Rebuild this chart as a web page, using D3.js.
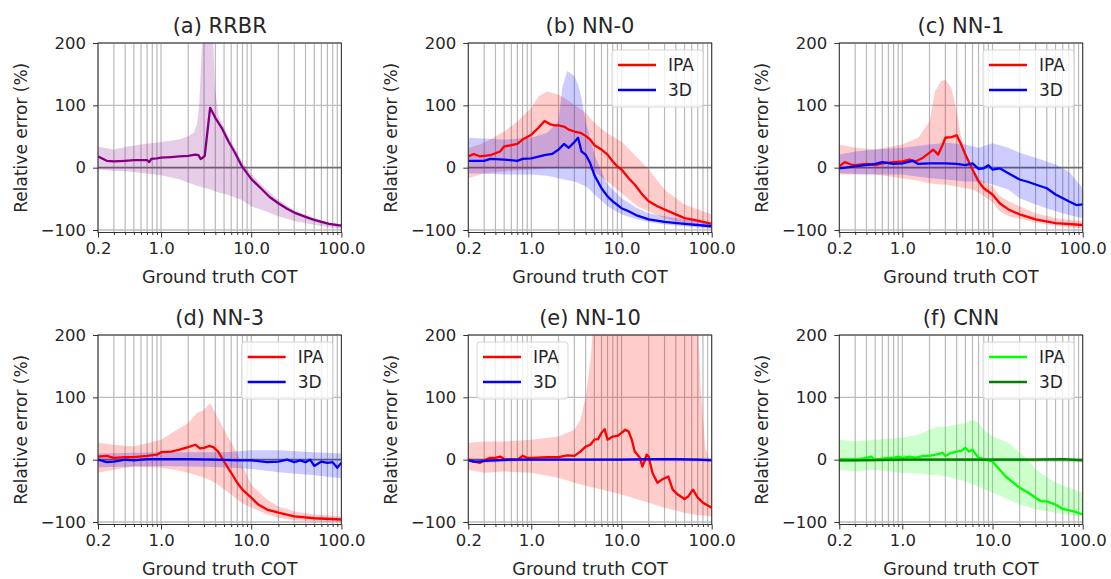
<!DOCTYPE html>
<html>
<head>
<meta charset="utf-8">
<script src="https://cdn.jsdelivr.net/npm/d3@7"></script>
<style>
body { margin: 0; background: #fff; }
text { font-family: "DejaVu Sans", sans-serif; fill: #262626; }
</style>
</head>
<body>
<script>

// [COT, mean relative error %]  and bands [COT, low, high]
const rrbrLine = [[0.2,18],[0.22,15],[0.25,11],[0.3,10],[0.4,11],[0.5,12],[0.6,12],[0.7,12],[0.74,9],[0.78,14],[0.9,15],[1.0,16],[1.3,17],[1.6,18],[2.0,19],[2.4,21],[2.6,20],[2.75,14],[2.9,16],[3.05,19],[3.5,96],[4.0,80],[4.7,64],[5.6,42],[6.6,24],[7.9,2],[10,-18],[13.2,-35],[16,-47],[20,-57],[25,-66],[31,-73],[40,-79],[48,-83],[60,-87],[73,-90],[100,-93]];
const rrbrBand = [[0.2,-3,34],[0.3,-5,29],[0.43,-6,34],[0.66,-9,38],[1.0,-12,41],[1.56,-18,45],[2.0,-24,50],[2.3,-27,56],[2.5,-29,69],[2.65,-30,101],[2.8,-31,176],[2.9,-32,240],[3.7,-36,240],[3.96,-38,128],[4.35,-40,82],[5.6,-44,50],[7.9,-52,10],[10,-62,-10],[13.2,-68,-28],[20,-78,-52],[31,-86,-69],[48,-91,-80],[73,-95,-88],[100,-98,-91]];

const nn0IpaLine = [[0.2,18],[0.23,22],[0.27,18],[0.35,20],[0.45,26],[0.5,34],[0.6,36],[0.7,38],[0.8,45],[1.0,53],[1.2,64],[1.4,75],[1.6,70],[1.8,68],[2.0,68],[2.3,66],[2.6,61],[3.0,58],[3.5,56],[4.0,51],[4.5,45],[5,36],[6,29],[7,21],[8,10],[9,2],[10,-3],[12,-17],[14,-27],[17,-43],[20,-54],[25,-62],[30,-67],[40,-75],[50,-81],[70,-85],[100,-90]];
const nn0IpaBand = [[0.2,-17,31],[0.3,-9,40],[0.5,-6,58],[0.7,-4,74],[1.0,-3,96],[1.2,-2,114],[1.5,-1,122],[2.0,0,117],[2.5,1,109],[3.0,2,101],[4.0,0,88],[5,-6,72],[7,-22,55],[10,-41,42],[15,-62,16],[20,-70,-3],[30,-81,-35],[50,-89,-59],[100,-97,-75]];
const nn0ThreeDLine = [[0.2,11],[0.3,11],[0.35,14],[0.5,13],[0.7,11],[0.8,14],[1.0,15],[1.4,20],[1.7,22],[2.0,29],[2.3,38],[2.6,32],[3.0,41],[3.3,48],[3.6,26],[4.0,21],[4.5,7],[5,-12],[6,-33],[7,-46],[8,-54],[10,-65],[12,-70],[15,-77],[20,-83],[30,-87],[50,-90],[100,-94]];
const nn0ThreeDBand = [[0.2,-9,48],[0.5,-11,45],[1.0,-11,48],[1.5,-13,56],[2.0,-17,74],[2.2,-18,128],[2.5,-20,155],[3.0,-22,147],[3.3,-24,133],[3.6,-27,112],[4.0,-30,74],[4.5,-36,48],[5,-43,21],[6,-53,-6],[7,-62,-27],[10,-75,-49],[15,-83,-65],[20,-87,-73],[30,-91,-78],[50,-94,-83],[100,-98,-89]];

const nn1IpaLine = [[0.2,2],[0.23,9],[0.27,5],[0.3,4],[0.4,6],[0.5,4],[0.6,7],[0.8,9],[1.0,10],[1.2,13],[1.4,10],[1.7,16],[2.0,24],[2.2,29],[2.5,21],[2.8,37],[3.0,48],[3.5,49],[4.0,52],[4.5,37],[5,21],[6,-3],[7,-22],[8,-33],[10,-43],[12,-57],[15,-67],[20,-75],[30,-83],[50,-89],[100,-92]];
const nn1IpaBand = [[0.2,-11,37],[0.3,-11,32],[0.5,-11,29],[1.0,-17,37],[1.5,-21,48],[2.0,-25,74],[2.3,-26,122],[2.7,-27,139],[3.0,-27,141],[3.5,-29,128],[4.0,-30,90],[4.5,-32,48],[5,-33,26],[6,-35,-6],[7,-40,-18],[10,-55,-30],[12,-70,-45],[15,-78,-54],[20,-82,-62],[30,-88,-73],[50,-93,-81],[100,-97,-86]];
const nn1ThreeDLine = [[0.2,-1],[0.3,2],[0.5,6],[0.6,9],[0.8,6],[1.0,7],[1.3,11],[1.5,6],[2.0,7],[3.0,7],[4.0,6],[5,4],[6,7],[7,-2],[8,-1],[9,4],[10,-3],[12,-1],[15,-9],[20,-19],[25,-23],[30,-27],[40,-33],[50,-43],[70,-54],[85,-60],[100,-59]];
const nn1ThreeDBand = [[0.2,-9,21],[0.3,-10,26],[0.5,-11,29],[1.0,-11,32],[2.0,-17,37],[3.0,-19,40],[5,-22,37],[7,-22,32],[10,-27,39],[15,-35,32],[20,-49,24],[30,-59,16],[50,-70,5],[70,-76,-6],[100,-81,-33]];

const nn3IpaLine = [[0.2,5],[0.25,6],[0.3,3],[0.4,4],[0.5,4],[0.7,6],[0.9,8],[1.0,12],[1.3,13],[1.6,16],[2.0,20],[2.4,24],[2.7,18],[3.0,19],[3.4,22],[3.8,20],[4.3,13],[5,-3],[6,-21],[7,-37],[8,-48],[10,-61],[12,-72],[15,-80],[20,-85],[30,-91],[50,-94],[100,-96]];
const nn3IpaBand = [[0.2,-21,27],[0.3,-16,24],[0.5,-11,21],[1.0,-13,32],[1.5,-17,48],[2.0,-21,59],[2.5,-25,75],[3.0,-29,80],[3.5,-33,91],[4.0,-37,75],[5,-48,48],[6,-56,28],[7,-64,10],[8,-70,-10],[10,-77,-40],[15,-88,-64],[20,-93,-75],[30,-97,-83],[50,-99,-88],[100,-100,-91]];
const nn3ThreeDLine = [[0.2,0],[0.25,-4],[0.3,-3],[0.4,0],[0.5,-1],[0.7,1],[1.0,1],[2,1],[4,0],[7,-1],[10,-1],[15,-4],[20,-3],[25,0],[30,-4],[35,-1],[40,-4],[45,0],[50,-10],[60,-3],[70,-5],[80,-4],[90,-13],[100,-5]];
const nn3ThreeDBand = [[0.2,-12,10],[1.0,-10,12],[5,-12,12],[10,-15,15],[20,-20,15],[50,-25,12],[100,-30,10]];

const nn10IpaLine = [[0.2,0],[0.23,-3],[0.27,-5],[0.3,-1],[0.35,3],[0.4,3],[0.45,5],[0.5,1],[0.7,0],[0.8,6],[0.9,3],[1.0,3],[1.5,4],[2,4],[2.5,7],[3.0,6],[3.5,13],[4.0,21],[4.5,24],[5,32],[5.5,33],[6,43],[6.5,49],[7,32],[8,37],[9,38],[10,43],[11,48],[12,45],[13,32],[14,13],[15,8],[16,3],[17,-11],[18,-3],[19,8],[20,5],[22,-21],[25,-37],[28,-32],[33,-27],[37,-48],[42,-56],[50,-63],[55,-59],[62,-48],[70,-61],[80,-69],[100,-77]];
const nn10IpaBand = [[0.2,-16,27],[0.3,-21,29],[0.5,-19,29],[1.0,-21,32],[2.0,-29,37],[3.0,-37,48],[3.5,-40,64],[4.0,-42,101],[4.5,-44,155],[5,-45,240],[10,-56,240],[20,-69,240],[30,-77,240],[50,-85,240],[70,-89,240],[75,-89,120],[85,-90,20],[100,-91,-10]];
const nn10ThreeDLine = [[0.2,-1],[0.23,-3],[0.27,-3],[0.3,-2],[0.4,-1],[0.6,0],[1,0],[3,0],[10,0],[20,1],[40,1],[70,0],[100,-1]];
const nn10ThreeDBand = [[0.2,-4,2],[0.3,-5,1],[1,-2,2],[10,-2,2],[100,-3,2]];

const cnnIpaLine = [[0.2,1],[0.3,0],[0.4,3],[0.45,5],[0.5,0],[0.7,3],[0.8,3],[0.9,5],[1.0,3],[1.2,5],[1.4,3],[1.7,6],[2.0,6],[2.5,9],[2.8,11],[3.0,6],[3.5,11],[4.0,13],[4.5,14],[5,19],[5.5,13],[6,16],[6.5,9],[7,3],[8,1],[10,-3],[12,-16],[14,-27],[17,-37],[20,-45],[25,-53],[30,-61],[35,-67],[40,-67],[50,-72],[60,-79],[80,-83],[100,-88]];
const cnnIpaBand = [[0.2,-16,32],[0.3,-19,29],[0.5,-16,32],[1.0,-21,35],[1.5,-22,40],[2.0,-24,48],[2.5,-25,53],[3.0,-27,53],[4.0,-31,56],[5,-35,59],[6,-39,64],[7,-43,59],[8,-47,48],[10,-53,37],[15,-64,27],[20,-72,11],[25,-76,0],[30,-80,-16],[50,-85,-37],[100,-91,-53]];
const cnnThreeDLine = [[0.2,-1],[0.3,-1],[1,0],[3,0],[10,0],[30,0],[60,1],[100,-1]];
const cnnThreeDBand = [[0.2,-4,3],[1,-3,3],[10,-3,3],[100,-4,3]];

const xTickLabels = [0.2, 1, 10, 100];
const xMinorTicks = [0.2,0.3,0.4,0.5,0.6,0.7,0.8,0.9,1,2,3,4,5,6,7,8,9,10,20,30,40,50,60,70,80,90,100];
const yTicks = [-100, 0, 100, 200];

const panels = [
	{ title: "(a) RRBR", col: 0, row: 0, legend: null,
	  series: [{ name: "", line: rrbrLine, band: rrbrBand, color: "purple" }] },
	{ title: "(b) NN-0", col: 1, row: 0, legend: "right",
	  series: [{ name: "IPA", line: nn0IpaLine, band: nn0IpaBand, color: "red" },
	           { name: "3D", line: nn0ThreeDLine, band: nn0ThreeDBand, color: "blue" }] },
	{ title: "(c) NN-1", col: 2, row: 0, legend: "right",
	  series: [{ name: "IPA", line: nn1IpaLine, band: nn1IpaBand, color: "red" },
	           { name: "3D", line: nn1ThreeDLine, band: nn1ThreeDBand, color: "blue" }] },
	{ title: "(d) NN-3", col: 0, row: 1, legend: "right",
	  series: [{ name: "IPA", line: nn3IpaLine, band: nn3IpaBand, color: "red" },
	           { name: "3D", line: nn3ThreeDLine, band: nn3ThreeDBand, color: "blue" }] },
	{ title: "(e) NN-10", col: 1, row: 1, legend: "left",
	  series: [{ name: "IPA", line: nn10IpaLine, band: nn10IpaBand, color: "red" },
	           { name: "3D", line: nn10ThreeDLine, band: nn10ThreeDBand, color: "blue" }] },
	{ title: "(f) CNN", col: 2, row: 1, legend: "right",
	  series: [{ name: "IPA", line: cnnIpaLine, band: cnnIpaBand, color: "lime" },
	           { name: "3D", line: cnnThreeDLine, band: cnnThreeDBand, color: "green" }] }
];

const w = 1111;
const h = 579;
const colX = [98, 468.3, 839.3];
const rowY = [43, 335];
const pw = 243.4;
const ph = 189.5;

const svg = d3.select("body")
	.append("svg")
	.attr("width", w)
	.attr("height", h);

const xScale = d3.scaleLog().domain([0.2, 100]).range([0, pw]);
const yScale = d3.scaleLinear().domain([-104, 200]).range([ph, 0]);

panels.forEach((p, pi) => {
	const g = svg.append("g")
		.attr("transform", "translate(" + colX[p.col] + "," + rowY[p.row] + ")");

	g.append("clipPath").attr("id", "clip" + pi)
		.append("rect").attr("width", pw).attr("height", ph);

	// grid
	g.selectAll(".vgrid").data(xMinorTicks).enter()
		.append("line")
		.attr("x1", (d) => xScale(d)).attr("x2", (d) => xScale(d))
		.attr("y1", 0).attr("y2", ph)
		.attr("stroke", "#b9b9b9").attr("stroke-width", 1.2);
	g.selectAll(".hgrid").data(yTicks).enter()
		.append("line")
		.attr("x1", 0).attr("x2", pw)
		.attr("y1", (d) => yScale(d)).attr("y2", (d) => yScale(d))
		.attr("stroke", (d) => d === 0 ? "#6e6e6e" : "#bdbdbd")
		.attr("stroke-width", (d) => d === 0 ? 1.7 : 1.4);

	const plot = g.append("g").attr("clip-path", "url(#clip" + pi + ")");

	const area = d3.area()
		.x((d) => xScale(d[0]))
		.y0((d) => yScale(d[1]))
		.y1((d) => yScale(d[2]));
	const line = d3.line()
		.x((d) => xScale(d[0]))
		.y((d) => yScale(d[1]));

	p.series.forEach((s) => {
		plot.append("path")
			.attr("d", area(s.band))
			.attr("fill", s.color)
			.attr("fill-opacity", 0.2);
	});
	p.series.forEach((s) => {
		plot.append("path")
			.attr("d", line(s.line))
			.attr("fill", "none")
			.attr("stroke", s.color)
			.attr("stroke-width", 2.3)
			.attr("stroke-linejoin", "round");
	});

	// axes
	const xAxis = d3.axisBottom(xScale)
		.tickValues(xTickLabels)
		.tickFormat(d3.format(".1f"))
		.tickSize(5)
		.tickPadding(5);
	const xa = g.append("g").attr("transform", "translate(0," + ph + ")").call(xAxis);
	const xMinor = d3.axisBottom(xScale)
		.tickValues(xMinorTicks.filter((d) => xTickLabels.indexOf(d) < 0))
		.tickFormat("")
		.tickSize(2.5);
	const xm = g.append("g").attr("transform", "translate(0," + ph + ")").call(xMinor);

	const yAxis = d3.axisLeft(yScale)
		.tickValues(yTicks)
		.tickSize(5)
		.tickPadding(7);
	const ya = g.append("g").call(yAxis);

	[xa, xm, ya].forEach((a) => {
		a.select(".domain").remove();
		a.selectAll(".tick line").attr("stroke", "#333");
		a.selectAll("text").style("font-size", "16.5px").attr("fill", "#262626");
	});

	g.append("rect")
		.attr("width", pw).attr("height", ph)
		.attr("fill", "none")
		.attr("stroke", "#333").attr("stroke-width", 1);

	g.append("text")
		.attr("x", pw / 2).attr("y", -10)
		.attr("text-anchor", "middle")
		.style("font-size", "21px")
		.text(p.title);

	g.append("text")
		.attr("x", pw / 2).attr("y", ph + 50)
		.attr("text-anchor", "middle")
		.style("font-size", "17.5px")
		.text("Ground truth COT");

	g.append("text")
		.attr("transform", "translate(-77," + (ph / 2) + ") rotate(-90)")
		.attr("text-anchor", "middle")
		.attr("dominant-baseline", "central")
		.style("font-size", "17px")
		.text("Relative error (%)");

	// legend
	if (p.legend) {
		const lw = 91, lh = 57;
		const lx = p.legend === "right" ? pw - 8.7 - lw : 8.7;
		const lg = g.append("g").attr("transform", "translate(" + lx + ",7)");
		lg.append("rect")
			.attr("width", lw).attr("height", lh)
			.attr("rx", 3)
			.attr("fill", "#fff").attr("fill-opacity", 0.8)
			.attr("stroke", "#d6d6d6").attr("stroke-width", 1);
		p.series.forEach((s, i) => {
			const yy = 15 + i * 25;
			lg.append("line")
				.attr("x1", 6).attr("x2", 44)
				.attr("y1", yy).attr("y2", yy)
				.attr("stroke", s.color).attr("stroke-width", 2.3);
			lg.append("text")
				.attr("x", 56).attr("y", yy)
				.attr("dominant-baseline", "central")
				.style("font-size", "17px")
				.text(s.name);
		});
	}
});

</script>
</body>
</html>
